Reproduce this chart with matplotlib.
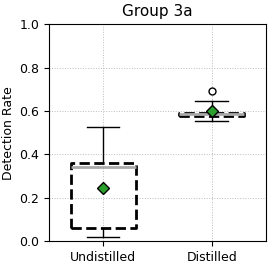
import matplotlib
matplotlib.use("Agg")
import matplotlib.pyplot as plt

labels = ["Undistilled", "Distilled"]
whislo = [0.02, 0.555]
q1 = [0.06, 0.575]
med = [0.342, 0.588]
q3 = [0.36, 0.592]
whishi = [0.525, 0.645]
means = [0.246, 0.598]
fliers = [[], [0.69]]

stats = [
    dict(label=l, whislo=a, q1=b, med=c, q3=d, whishi=e, mean=m, fliers=f)
    for l, a, b, c, d, e, m, f in zip(labels, whislo, q1, med, q3, whishi, means, fliers)
]

fig, ax = plt.subplots(figsize=(2.78, 2.68), dpi=100)
ax.bxp(
    stats, widths=0.6, showmeans=True,
    boxprops=dict(color="black", linestyle="--", linewidth=2),
    medianprops=dict(color="#aaaaaa", linewidth=2),
    whiskerprops=dict(color="black", linewidth=1),
    capprops=dict(color="black", linewidth=1),
    meanprops=dict(marker="D", markerfacecolor="#2ca02c", markeredgecolor="black", markersize=6),
    flierprops=dict(marker="o", markerfacecolor="white", markeredgecolor="black", markersize=5),
)
ax.set_ylim(0, 1)
ax.set_xlim(0.5, 2.5)
ax.set_ylabel("Detection Rate", fontsize=9, labelpad=3)
ax.set_title("Group 3a", fontsize=11)
ax.tick_params(labelsize=9)
ax.grid(True, linestyle=":", color="#bbbbbb", linewidth=0.7)
ax.set_axisbelow(True)
fig.subplots_adjust(left=0.176, right=0.957, top=0.91, bottom=0.1)
fig.savefig("out.png", dpi=100)
